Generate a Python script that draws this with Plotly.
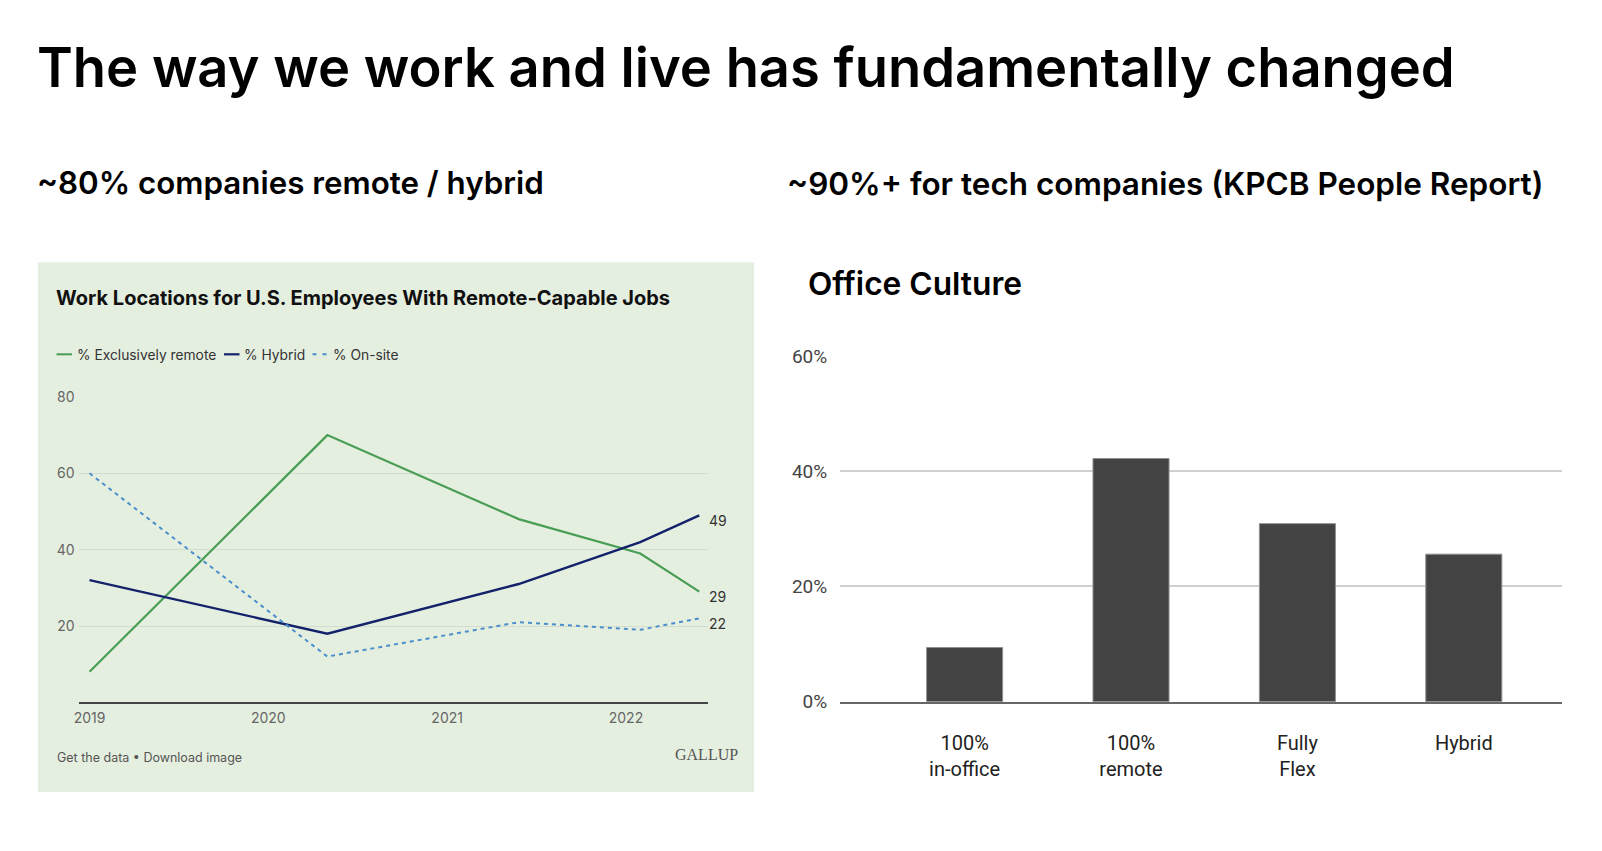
import plotly.graph_objects as go

W, H = 1602, 851

# Observed capture transform (picture = S * (figure + M)); positions below are the
# target picture pixels, converted back to figure pixels.
SX, MX = 0.9963, 6.0
SY, MY = 0.977, 10.0


def px(x):
    return (x / SX - MX) / W


def py(y):
    return 1 - (y / SY - MY) / H


# ---------------- data ----------------
survey_dates = [2019.0, 2020.33, 2021.40, 2022.08, 2022.41]
remote = [8, 70, 48, 39, 29]
hybrid = [32, 18, 31, 42, 49]
onsite = [60, 12, 21, 19, 22]
year_ticks = [2019, 2020, 2021, 2022]
left_y_ticks = [20, 40, 60, 80]

culture_cats = ["100%<br>in-office", "100%<br>remote", "Fully<br>Flex", "Hybrid"]
culture_vals = [0.094, 0.422, 0.309, 0.256]
pct_ticks = [0, 0.2, 0.4, 0.6]

GREEN = "#4a9d55"
NAVY = "#14216b"
LBLUE = "#4a8fcc"

fig = go.Figure()

fig.add_trace(go.Scatter(x=survey_dates, y=remote, mode="lines",
                         line=dict(color=GREEN, width=2.2), xaxis="x", yaxis="y",
                         name="% Exclusively remote"))
fig.add_trace(go.Scatter(x=survey_dates, y=hybrid, mode="lines",
                         line=dict(color=NAVY, width=2.4), xaxis="x", yaxis="y",
                         name="% Hybrid"))
fig.add_trace(go.Scatter(x=survey_dates, y=onsite, mode="lines",
                         line=dict(color=LBLUE, width=2, dash="4px,4px"), xaxis="x", yaxis="y",
                         name="% On-site"))

fig.add_trace(go.Bar(x=culture_cats, y=culture_vals, width=0.457,
                     marker=dict(color="#434343", line=dict(color="#8f8f8f", width=1)),
                     xaxis="x2", yaxis="y2", name="Office Culture"))

shapes = [
    dict(type="rect", xref="paper", yref="paper", x0=px(38), x1=px(754), y0=py(794), y1=py(262),
         fillcolor="#e5efe0", line=dict(width=0), layer="below"),
]

# legend line samples (left chart)
leg_y = py(354.5)
shapes += [
    dict(type="line", xref="paper", yref="paper", x0=px(56.5), x1=px(72), y0=leg_y, y1=leg_y,
         line=dict(color=GREEN, width=2)),
    dict(type="line", xref="paper", yref="paper", x0=px(224), x1=px(239.5), y0=leg_y, y1=leg_y,
         line=dict(color=NAVY, width=2.2)),
    dict(type="line", xref="paper", yref="paper", x0=px(312.5), x1=px(327), y0=leg_y, y1=leg_y,
         line=dict(color=LBLUE, width=2, dash="4px,6px")),
]

annotations = []


def text(x, y, s, size, color="#000", family="Inter", xanchor="left", yanchor="middle",
         weight="normal", **kw):
    annotations.append(dict(x=px(x), y=py(y), xref="paper", yref="paper", text=s,
                            showarrow=False, xanchor=xanchor, yanchor=yanchor,
                            font=dict(size=size, color=color, family=family, weight=weight), **kw))


text(35, 66.5, "The way we work and live has fundamentally changed", 54.3, "#000", "Inter", weight=600)
text(35, 182.5, "~80% companies remote / hybrid", 31.3, "#000", "Inter", weight=600)
text(785, 182.5, "~90%+ for tech companies (KPCB People Report)", 31.5, "#000", "Inter", weight=600)
text(806, 283, "Office Culture", 31.7, "#000", "Inter", weight=600)

text(54, 297.5, "Work Locations for U.S. Employees With Remote-Capable Jobs", 20, "#111", "Inter",
     weight=700)
text(75, 355, "% Exclusively remote", 13.8, "#333", "Inter")
text(242, 355, "% Hybrid", 13.8, "#333", "Inter")
text(331, 355, "% On-site", 13.8, "#333", "Inter")

text(55, 759, "Get the data \u2022 Download image", 12.5, "#555", "Inter")
text(740, 756, "GALLUP", 16, "#555", "Liberation Serif", xanchor="right")

# end-of-line value labels
for series in (remote, hybrid, onsite):
    annotations.append(dict(x=survey_dates[-1], y=series[-1], xref="x", yref="y",
                            text=str(series[-1]), showarrow=False, xanchor="left",
                            yanchor="middle", xshift=8, yshift=-5,
                            font=dict(size=14, color="#333", family="Inter")))

fig.update_layout(
    width=W, height=H,
    margin=dict(l=0, r=0, t=0, b=0),
    paper_bgcolor="white",
    plot_bgcolor="rgba(0,0,0,0)",
    showlegend=False,
    shapes=shapes,
    annotations=annotations,
    xaxis=dict(domain=[px(79.3), px(707.7)], range=[2018.943, 2022.457],
               tickvals=year_ticks, ticktext=[str(y) for y in year_ticks],
               showgrid=False, zeroline=False, showline=True, linecolor="#444", linewidth=1.5,
               ticks="outside", ticklen=2, tickcolor="rgba(0,0,0,0)",
               tickfont=dict(size=14, color="#666", family="Inter"), anchor="y"),
    yaxis=dict(domain=[py(704), py(397.3)], range=[0, 80], tickvals=left_y_ticks,
               showgrid=True, gridcolor="#d3ddcf", gridwidth=1, zeroline=False, showline=False,
               ticks="outside", ticklen=1, tickcolor="rgba(0,0,0,0)",
               tickfont=dict(size=14, color="#666", family="Inter"), anchor="x"),
    xaxis2=dict(domain=[px(840), px(1561.7)], range=[-0.749, 3.588], type="category",
                showgrid=False, zeroline=False, showline=True, linecolor="#666", linewidth=2,
                ticks="outside", ticklen=22, tickcolor="rgba(0,0,0,0)",
                tickfont=dict(size=20, color="#222", family="Roboto"), anchor="y2"),
    yaxis2=dict(domain=[py(703.3), py(355.9)], range=[0, 0.6005], tickvals=pct_ticks,
                tickformat=".0%", showgrid=True, gridcolor="#d0d0d0", gridwidth=1.5,
                zeroline=False, showline=False,
                ticks="outside", ticklen=8, tickcolor="rgba(0,0,0,0)",
                tickfont=dict(size=19, color="#444", family="Roboto"), anchor="x2"),
)

fig.write_html("out.html")
